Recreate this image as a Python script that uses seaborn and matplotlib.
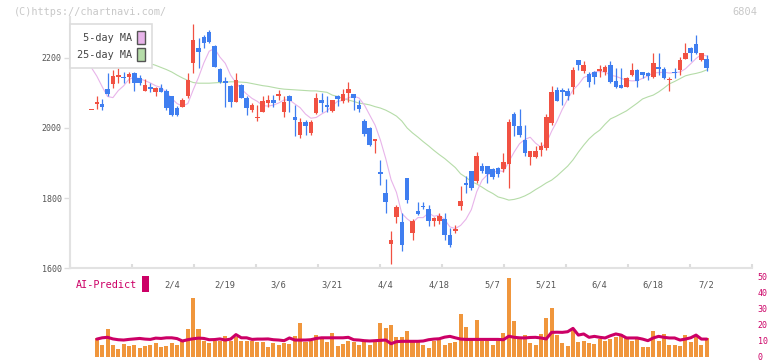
import numpy as np
import pandas as pd
import matplotlib
matplotlib.use("Agg")
import matplotlib.pyplot as plt
from matplotlib.patches import Patch, Rectangle
import seaborn as sns

# --- daily candles (2025/1/14 .. 7/2) ---
opens = [2050, 2068, 2069, 2111, 2126, 2147, 2146, 2145, 2156, 2142,
         2107, 2116, 2104, 2115, 2106, 2090, 2058, 2061, 2091, 2185,
         2228, 2259, 2273, 2234, 2169, 2133, 2120, 2075, 2123, 2087,
         2052, 2029, 2047, 2072, 2080, 2090, 2047, 2091, 2030, 1980,
         2016, 1987, 2042, 2080, 2066, 2049, 2090, 2078, 2099, 2097,
         2066, 2020, 1999, 1964, 1873, 1815, 1669, 1747, 1732, 1857,
         1699, 1763, 1778, 1769, 1734, 1734, 1740, 1694, 1706, 1777,
         1842, 1877, 1850, 1892, 1890, 1882, 1885, 1884, 1898, 2040,
         2006, 1966, 1918, 1918, 1937, 1944, 2015, 2109, 2109, 2106,
         2118, 2194, 2164, 2153, 2161, 2164, 2161, 2180, 2134, 2123,
         2118, 2150, 2166, 2159, 2156, 2145, 2175, 2169, 2136, 2161,
         2166, 2198, 2228, 2240, 2194, 2197]
highs = [2052, 2091, 2083, 2156, 2166, 2172, 2161, 2161, 2161, 2151,
         2140, 2128, 2118, 2126, 2110, 2092, 2063, 2085, 2158, 2297,
         2256, 2266, 2280, 2236, 2171, 2147, 2123, 2156, 2125, 2090,
         2070, 2066, 2090, 2094, 2093, 2109, 2090, 2093, 2066, 2028,
         2023, 2023, 2099, 2099, 2091, 2080, 2094, 2111, 2130, 2098,
         2080, 2025, 2004, 1968, 1909, 1853, 1706, 1780, 1756, 1858,
         1739, 1790, 1790, 1780, 1747, 1756, 1756, 1714, 1723, 1834,
         1863, 1878, 1932, 1901, 1892, 1885, 1888, 1930, 2025, 2047,
         2053, 2009, 1935, 1950, 1961, 2040, 2120, 2116, 2113, 2113,
         2175, 2195, 2190, 2161, 2162, 2180, 2180, 2190, 2171, 2171,
         2145, 2185, 2168, 2160, 2161, 2215, 2215, 2175, 2145, 2171,
         2204, 2244, 2230, 2266, 2214, 2209]
lows = [2050, 2055, 2050, 2090, 2115, 2128, 2128, 2128, 2107, 2123,
        2105, 2104, 2090, 2102, 2052, 2034, 2034, 2059, 2085, 2156,
        2171, 2228, 2242, 2173, 2128, 2061, 2061, 2073, 2085, 2037,
        2047, 2020, 2045, 2061, 2059, 2080, 2032, 2047, 1977, 1971,
        1980, 1980, 2040, 2047, 2047, 2046, 2064, 2072, 2075, 2050,
        2047, 1977, 1950, 1930, 1837, 1756, 1612, 1730, 1650, 1785,
        1680, 1752, 1768, 1721, 1721, 1725, 1680, 1661, 1701, 1766,
        1813, 1823, 1844, 1871, 1844, 1854, 1861, 1873, 1828, 1977,
        1975, 1920, 1894, 1915, 1920, 1937, 2009, 2076, 2066, 2080,
        2097, 2166, 2156, 2118, 2126, 2147, 2151, 2128, 2113, 2113,
        2116, 2148, 2118, 2142, 2137, 2142, 2151, 2140, 2107, 2142,
        2151, 2196, 2190, 2211, 2190, 2163]
closes = [2052, 2075, 2061, 2097, 2149, 2152, 2143, 2154, 2128, 2128,
          2123, 2111, 2113, 2104, 2056, 2038, 2037, 2080, 2137, 2251,
          2218, 2244, 2247, 2175, 2130, 2128, 2075, 2137, 2087, 2058,
          2066, 2032, 2077, 2080, 2072, 2097, 2075, 2077, 2023, 2018,
          2006, 2016, 2087, 2072, 2061, 2080, 2082, 2097, 2111, 2085,
          2054, 1983, 1952, 1968, 1870, 1790, 1680, 1773, 1666, 1793,
          1734, 1754, 1773, 1734, 1744, 1750, 1693, 1666, 1710, 1790,
          1838, 1830, 1920, 1877, 1868, 1861, 1868, 1903, 2018, 2006,
          1980, 1930, 1934, 1934, 1949, 2032, 2104, 2078, 2104, 2092,
          2166, 2180, 2180, 2132, 2145, 2169, 2175, 2132, 2118, 2115,
          2142, 2166, 2135, 2151, 2149, 2187, 2169, 2142, 2138, 2156,
          2194, 2215, 2215, 2213, 2213, 2172]

# 5-day MA for the first days (needs closes from before the window)
ma5_head = [2172, 2148, 2118, 2090]
# 25-day MA
ma25 = [2237, 2231, 2226, 2220, 2214, 2209, 2203, 2199, 2194, 2191,
        2188, 2184, 2179, 2173, 2167, 2160, 2151, 2143, 2136, 2130,
        2128, 2128, 2128, 2129, 2130, 2131, 2132, 2132, 2131, 2130,
        2127, 2124, 2121, 2119, 2116, 2113, 2111, 2110, 2109, 2108,
        2107, 2106, 2106, 2104, 2102, 2094, 2090, 2084, 2080, 2076,
        2071, 2069, 2066, 2061, 2057, 2051, 2043, 2034, 2020, 2000,
        1986, 1974, 1961, 1949, 1936, 1924, 1913, 1900, 1887, 1869,
        1859, 1847, 1840, 1831, 1821, 1813, 1803, 1799, 1794, 1796,
        1800, 1806, 1814, 1824, 1833, 1843, 1851, 1863, 1877, 1891,
        1909, 1931, 1951, 1969, 1983, 1994, 2011, 2026, 2033, 2041,
        2049, 2060, 2071, 2083, 2089, 2094, 2103, 2114, 2126, 2133,
        2141, 2149, 2153, 2156, 2160, 2166]

# lower panel (from the 2nd day on)
volume = [11.9, 7.5, 17.5, 7.5, 5.0, 8.1, 6.7, 7.5, 5.6, 6.7,
          7.5, 8.8, 6.2, 7.0, 8.8, 7.5, 10.2, 17.5, 36.9, 17.5,
          10.2, 8.8, 10.2, 10.2, 13.3, 10.2, 12.3, 10.2, 10.2, 10.3,
          9.4, 9.4, 6.0, 8.8, 7.5, 8.8, 8.1, 13.3, 21.2, 9.4,
          10.2, 13.8, 11.2, 9.6, 15.0, 7.0, 8.1, 10.2, 9.4, 7.5,
          10.2, 7.5, 9.4, 21.2, 18.1, 20.0, 12.3, 12.3, 16.5, 9.4,
          9.4, 7.5, 5.6, 10.2, 10.8, 7.5, 8.8, 9.6, 26.9, 19.0,
          11.2, 23.1, 10.2, 10.2, 7.5, 10.2, 15.0, 49.4, 22.7, 11.2,
          13.8, 8.8, 7.5, 14.4, 24.4, 30.6, 13.8, 8.8, 6.7, 16.9,
          9.4, 10.2, 8.8, 8.1, 11.2, 10.2, 11.2, 12.7, 14.4, 12.3,
          10.2, 11.7, 6.5, 6.5, 16.5, 10.2, 14.4, 7.5, 7.5, 6.7,
          13.8, 9.6, 12.3, 7.5, 11.9]
ai_predict = [11.2, 12.0, 12.3, 11.3, 10.8, 10.6, 11.0, 11.3, 11.6, 11.2,
              11.0, 11.8, 11.6, 12.0, 12.0, 11.5, 10.0, 10.8, 11.4, 11.8,
              11.6, 10.8, 10.9, 11.3, 10.6, 11.2, 14.0, 12.0, 12.0, 11.0,
              11.2, 11.2, 11.3, 10.8, 10.6, 10.2, 11.9, 10.6, 10.6, 10.6,
              10.8, 11.6, 12.0, 12.0, 12.0, 12.0, 12.0, 12.3, 10.8, 10.6,
              10.2, 10.0, 10.2, 10.4, 10.6, 8.3, 9.6, 9.8, 9.8, 9.8,
              9.8, 10.0, 10.8, 11.2, 11.4, 12.4, 12.9, 12.0, 11.2, 11.0,
              11.0, 11.0, 11.0, 11.0, 11.0, 11.0, 10.8, 13.0, 12.3, 12.0,
              11.9, 12.2, 12.3, 11.9, 11.3, 15.4, 15.5, 15.4, 15.8, 17.9,
              13.7, 14.4, 12.3, 12.9, 12.3, 11.9, 13.3, 14.4, 13.7, 11.9,
              11.9, 11.9, 11.2, 10.2, 11.9, 12.9, 12.3, 11.9, 11.9, 10.6,
              11.2, 12.0, 13.7, 11.2, 11.2]

tick_labels = ["2/4", "2/19", "3/6", "3/21", "4/4", "4/18", "5/7", "5/21", "6/4", "6/18", "7/2"]
tick_days = [15, 25, 35, 45, 55, 65, 75, 85, 95, 105, 115]
price_ticks = [1600, 1800, 2000, 2200]

RED = "#f15142"
BLUE = "#3f7ef0"
PINK = "#e8b4ea"
GREEN = "#b5dca8"
ORANGE = "#f0963c"
CRIMSON = "#cc0066"
GRID = "#dddddd"
TXT = "#555555"

sns.set_theme(style="white")
plt.rcParams["font.family"] = ["DejaVu Sans Mono", "DejaVu Sans"]

df = pd.DataFrame({"day": np.arange(len(closes)), "open": opens, "high": highs,
                   "low": lows, "close": closes, "ma25": ma25})
df["ma5"] = df["close"].rolling(5).mean()
df.loc[:len(ma5_head) - 1, "ma5"] = ma5_head
lower = pd.DataFrame({"day": df["day"].iloc[1:].values, "volume": volume, "ai": ai_predict})

W, H = 772, 361
fig = plt.figure(figsize=(W / 100, H / 100), dpi=100)
fig.patch.set_facecolor("white")
ax = fig.add_axes([70 / W, 1 - 268 / H, 682 / W, 251 / H])
ax2 = fig.add_axes([70 / W, 1 - 357 / H, 682 / W, 80 / H])

xlim = (-21.5 / 5.35, -21.5 / 5.35 + 682 / 5.35)

# moving averages
sns.lineplot(data=df, x="day", y="ma25", ax=ax, color=GREEN, lw=0.8, zorder=1)
sns.lineplot(data=df, x="day", y="ma5", ax=ax, color=PINK, lw=0.8, zorder=1)

# candles
up = df["close"] >= df["open"]
cols = np.where(up, RED, BLUE)
ax.vlines(df["day"], df["low"], df["high"], colors=cols, lw=0.9, zorder=2)
body_lo = np.minimum(df["open"], df["close"])
body_h = np.maximum((df["close"] - df["open"]).abs(), 3)
ax.bar(df["day"], body_h, bottom=body_lo, width=0.85, color=cols, linewidth=0, zorder=3)

ax.set_xlim(*xlim)
ax.set_ylim(1600, 1600 + 251 * 200 / 70)
ax.set_xlabel("")
ax.set_ylabel("")
ax.set_yticks(price_ticks)
ax.set_yticklabels([str(v) for v in price_ticks])
ax.set_xticks(np.linspace(xlim[0], xlim[1], 12))
ax.set_xticklabels([])
ax.tick_params(axis="y", left=True, length=4, width=1, color=GRID, labelsize=6, labelcolor=TXT, pad=2)
ax.tick_params(axis="x", bottom=True, direction="in", length=3, width=1.5, color=GRID)
for s in ["top", "right"]:
    ax.spines[s].set_visible(False)
for s in ["left", "bottom"]:
    ax.spines[s].set_color("#e2e2e2")
    ax.spines[s].set_linewidth(1.5)

handles = [Patch(facecolor=PINK, edgecolor="#555555", lw=1, label=" 5-day MA"),
           Patch(facecolor=GREEN, edgecolor="#555555", lw=1, label="25-day MA")]
leg = ax.legend(handles=handles, loc="upper left", bbox_to_anchor=(0, 1 - 7 / 251),
                markerfirst=False, frameon=True, fancybox=False, fontsize=7.3,
                borderaxespad=0, borderpad=0.7, labelspacing=0.45,
                handlelength=0.75, handleheight=1.55, handletextpad=0.5)
leg.get_frame().set_edgecolor("#dddddd")
leg.get_frame().set_linewidth(1.2)
leg.get_frame().set_facecolor("white")
leg.get_frame().set_alpha(1)
leg.set_zorder(10)
for t in leg.get_texts():
    t.set_color("#444444")

# lower panel: volume + AI-Predict
ax2.bar(lower["day"], lower["volume"], width=0.75, color=ORANGE, linewidth=0, zorder=1)
sns.lineplot(data=lower, x="day", y="ai", ax=ax2, color=CRIMSON, lw=2.2, zorder=2)
ax2.set_xlim(*xlim)
ax2.set_ylim(0, 50)
ax2.set_xlabel("")
ax2.set_ylabel("")
ax2.set_xticks([])
ax2.yaxis.tick_right()
ax2.set_yticks([0, 10, 20, 30, 40, 50])
ax2.tick_params(axis="y", right=False, length=0, labelsize=6, labelcolor=CRIMSON, pad=4)
for lab in ax2.get_yticklabels():
    lab.set_va("center_baseline")
for s in ax2.spines.values():
    s.set_visible(False)
ax2.patch.set_alpha(0)

for d, lab in zip(tick_days, tick_labels):
    ax2.text(d, 0.9, lab, transform=ax2.get_xaxis_transform(), ha="center", va="center",
             fontsize=6.3, color=TXT)
ax2.text(6 / 682, 0.9, "AI-Predict", transform=ax2.transAxes, ha="left", va="center",
         fontsize=7.3, color=CRIMSON)
ax2.add_patch(Rectangle((72 / 682, 65 / 80), 7 / 682, 16 / 80, transform=ax2.transAxes,
                        facecolor=CRIMSON, edgecolor="none", clip_on=False))

fig.text(14 / W, 1 - 12 / H, "(C)https://chartnavi.com/", ha="left", va="center",
         fontsize=7.3, color="#c8c8c8")
fig.text(757 / W, 1 - 12 / H, "6804", ha="right", va="center", fontsize=7.5, color="#c8c8c8")

fig.savefig("out.png", dpi=100)
